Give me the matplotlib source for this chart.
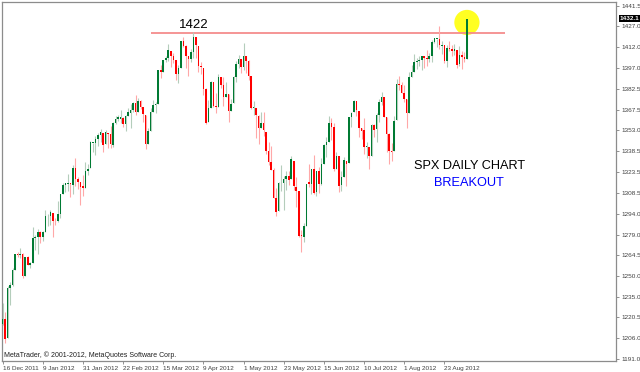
import numpy as np
import matplotlib.pyplot as plt
import matplotlib.transforms as mtransforms

plt.rcParams['font.family'] = ['Liberation Sans', 'DejaVu Sans']

# SPX daily bars, 16 Dec 2011 - 6 Sep 2012 (one entry per bar)
opens = [1216.1, 1219.7, 1205.7, 1241.3, 1243.7, 1254.0, 1265.3, 1265.0, 1265.4, 1249.6,
         1263.0, 1257.6, 1258.9, 1277.0, 1277.3, 1281.0, 1277.8, 1280.8, 1292.0, 1292.5,
         1294.8, 1289.1, 1288.5, 1293.7, 1308.1, 1314.5, 1315.3, 1316.0, 1314.4, 1326.3,
         1318.3, 1316.2, 1313.5, 1312.5, 1324.2, 1326.2, 1344.3, 1344.3, 1347.0, 1350.0,
         1351.2, 1343.1, 1351.3, 1350.5, 1342.6, 1358.1, 1361.2, 1361.2, 1362.1, 1357.5,
         1363.5, 1365.2, 1367.6, 1372.2, 1365.9, 1374.1, 1369.6, 1363.6, 1343.4, 1352.7,
         1366.0, 1370.8, 1371.9, 1396.0, 1394.2, 1402.6, 1404.2, 1409.6, 1405.5, 1402.9,
         1392.8, 1397.1, 1416.6, 1412.5, 1405.4, 1403.3, 1408.5, 1419.0, 1413.1, 1398.8,
         1397.5, 1382.2, 1359.0, 1368.8, 1387.6, 1370.3, 1369.6, 1390.8, 1385.1, 1377.0,
         1378.5, 1367.0, 1372.1, 1390.6, 1400.2, 1403.3, 1397.9, 1405.5, 1402.3, 1391.5,
         1368.8, 1369.2, 1363.2, 1354.6, 1358.1, 1351.9, 1338.4, 1330.8, 1324.8, 1305.1,
         1295.7, 1316.1, 1316.0, 1318.7, 1320.8, 1318.9, 1331.3, 1313.1, 1309.9, 1278.3,
         1277.8, 1285.6, 1316.2, 1315.0, 1325.7, 1309.4, 1324.0, 1314.9, 1329.2, 1342.4,
         1344.8, 1358.0, 1355.4, 1325.9, 1334.9, 1314.1, 1320.0, 1331.5, 1330.1, 1362.3,
         1365.8, 1373.7, 1367.1, 1354.7, 1353.0, 1341.4, 1341.3, 1334.8, 1356.5, 1353.7,
         1363.6, 1373.0, 1376.5, 1362.3, 1350.5, 1338.4, 1338.2, 1360.1, 1385.9, 1385.3,
         1379.3, 1375.1, 1365.5, 1391.0, 1394.5, 1401.2, 1402.3, 1402.6, 1405.9, 1404.4,
         1403.9, 1405.6, 1415.8, 1417.9, 1418.1, 1413.1, 1413.5, 1402.0, 1411.1, 1410.4,
         1409.3, 1410.1, 1400.1, 1406.5, 1404.9, 1403.7]
highs = [1231.0, 1224.6, 1242.8, 1245.6, 1255.2, 1265.4, 1267.0, 1269.4, 1265.9, 1263.5,
         1264.1, 1260.0, 1284.6, 1278.7, 1283.1, 1281.8, 1281.9, 1296.5, 1293.8, 1296.8,
         1294.8, 1291.0, 1303.0, 1308.1, 1315.5, 1315.4, 1322.3, 1316.0, 1328.3, 1333.5,
         1320.1, 1316.2, 1321.4, 1330.5, 1329.2, 1345.3, 1344.4, 1349.2, 1351.0, 1354.3,
         1351.2, 1353.4, 1351.3, 1355.9, 1359.0, 1363.4, 1364.0, 1367.8, 1362.7, 1364.2,
         1368.9, 1371.9, 1373.1, 1378.0, 1376.2, 1374.5, 1369.6, 1363.6, 1354.9, 1368.7,
         1374.8, 1373.0, 1396.1, 1399.4, 1402.6, 1405.9, 1414.0, 1409.6, 1407.8, 1402.9,
         1399.2, 1416.6, 1419.2, 1413.7, 1405.4, 1410.9, 1422.4, 1419.1, 1413.1, 1401.6,
         1397.5, 1383.0, 1374.7, 1388.1, 1387.6, 1379.7, 1392.8, 1390.8, 1390.5, 1387.4,
         1378.5, 1375.6, 1391.4, 1402.1, 1406.6, 1403.3, 1415.3, 1405.5, 1403.1, 1391.5,
         1373.9, 1369.2, 1363.7, 1365.9, 1365.7, 1351.9, 1344.9, 1341.8, 1326.4, 1312.2,
         1316.4, 1328.5, 1320.7, 1324.1, 1324.2, 1334.9, 1331.3, 1319.7, 1309.9, 1282.6,
         1287.6, 1315.1, 1329.1, 1325.8, 1335.5, 1324.3, 1327.3, 1333.7, 1343.3, 1348.2,
         1363.5, 1361.6, 1358.3, 1337.8, 1334.9, 1324.2, 1334.4, 1331.5, 1362.2, 1366.4,
         1374.8, 1373.8, 1367.1, 1354.9, 1361.5, 1345.0, 1341.3, 1357.7, 1357.3, 1365.4,
         1375.3, 1380.4, 1376.5, 1362.3, 1351.5, 1344.0, 1363.1, 1389.2, 1391.7, 1387.2,
         1385.0, 1375.1, 1394.2, 1399.6, 1407.1, 1404.1, 1406.0, 1406.0, 1405.9, 1410.0,
         1407.7, 1417.4, 1418.7, 1418.1, 1426.7, 1416.1, 1413.5, 1413.5, 1416.2, 1413.6,
         1414.0, 1410.1, 1413.1, 1409.3, 1408.8, 1432.1]
lows = [1215.2, 1202.4, 1205.7, 1229.5, 1243.1, 1254.0, 1263.5, 1262.3, 1248.6, 1249.6,
        1257.5, 1255.5, 1258.9, 1268.1, 1265.3, 1273.3, 1274.6, 1280.8, 1285.4, 1285.8,
        1277.6, 1286.0, 1287.8, 1291.0, 1308.1, 1309.2, 1309.9, 1306.1, 1307.7, 1313.6,
        1311.7, 1300.5, 1306.7, 1312.5, 1321.6, 1326.2, 1337.5, 1335.9, 1341.9, 1344.6,
        1337.4, 1343.1, 1340.8, 1340.8, 1341.2, 1357.2, 1359.5, 1358.1, 1355.5, 1352.3,
        1363.5, 1354.9, 1366.0, 1363.8, 1365.9, 1368.0, 1359.1, 1340.0, 1343.4, 1352.7,
        1366.0, 1365.3, 1371.9, 1390.0, 1394.2, 1401.5, 1402.4, 1397.7, 1400.6, 1388.7,
        1386.9, 1397.1, 1411.9, 1397.2, 1391.6, 1401.4, 1404.5, 1404.6, 1394.1, 1392.9,
        1378.2, 1357.4, 1359.0, 1368.8, 1369.9, 1365.4, 1369.6, 1383.3, 1370.3, 1377.0,
        1358.8, 1366.8, 1372.1, 1387.4, 1397.0, 1394.0, 1395.7, 1393.9, 1388.7, 1368.0,
        1363.9, 1347.8, 1343.1, 1354.6, 1348.9, 1336.6, 1328.4, 1324.8, 1304.9, 1292.0,
        1295.7, 1310.0, 1296.5, 1310.5, 1314.2, 1318.9, 1310.8, 1298.9, 1277.3, 1266.7,
        1274.2, 1285.6, 1312.7, 1307.8, 1307.7, 1306.6, 1308.4, 1314.1, 1329.2, 1334.5,
        1344.8, 1346.5, 1324.4, 1325.9, 1309.3, 1310.3, 1320.0, 1313.3, 1330.1, 1355.7,
        1365.8, 1363.5, 1348.0, 1346.7, 1336.3, 1333.3, 1325.4, 1334.8, 1348.5, 1345.1,
        1359.0, 1371.2, 1362.2, 1337.6, 1329.2, 1331.5, 1338.2, 1360.1, 1381.4, 1379.2,
        1373.1, 1354.6, 1365.5, 1391.0, 1394.5, 1396.6, 1398.8, 1395.6, 1397.3, 1398.8,
        1401.8, 1401.5, 1414.7, 1412.1, 1410.9, 1406.8, 1400.5, 1398.0, 1409.1, 1405.6,
        1406.6, 1397.0, 1399.0, 1396.6, 1401.3, 1403.7]
closes = [1219.7, 1205.4, 1241.3, 1243.7, 1254.0, 1265.3, 1265.0, 1265.4, 1249.6, 1263.0,
          1257.6, 1258.9, 1277.1, 1277.3, 1281.1, 1277.8, 1280.7, 1292.1, 1292.5, 1295.5,
          1289.1, 1288.5, 1293.7, 1308.0, 1314.5, 1315.4, 1316.0, 1314.7, 1326.1, 1318.4,
          1316.3, 1313.0, 1312.4, 1324.1, 1325.5, 1344.9, 1344.3, 1347.1, 1350.0, 1352.0,
          1342.6, 1351.8, 1350.5, 1343.2, 1358.0, 1361.2, 1362.5, 1362.2, 1357.7, 1363.5,
          1365.7, 1367.6, 1372.2, 1365.7, 1374.1, 1369.6, 1364.3, 1343.4, 1352.6, 1365.9,
          1370.9, 1371.1, 1396.0, 1394.3, 1402.6, 1404.2, 1409.8, 1405.5, 1402.9, 1392.8,
          1397.1, 1416.5, 1412.5, 1405.5, 1403.3, 1408.5, 1419.0, 1413.4, 1399.0, 1398.1,
          1382.2, 1358.6, 1368.7, 1387.6, 1370.3, 1369.6, 1390.8, 1385.1, 1376.9, 1378.5,
          1366.9, 1372.0, 1390.7, 1400.0, 1403.4, 1397.9, 1405.8, 1402.3, 1391.6, 1369.1,
          1369.6, 1363.7, 1354.6, 1358.0, 1353.4, 1338.4, 1330.7, 1324.8, 1304.9, 1295.2,
          1316.0, 1316.6, 1318.9, 1320.7, 1317.8, 1332.4, 1313.3, 1310.3, 1278.0, 1278.2,
          1285.5, 1315.1, 1315.0, 1325.7, 1308.9, 1324.2, 1314.9, 1329.1, 1342.8, 1344.8,
          1358.0, 1355.7, 1325.5, 1335.0, 1313.7, 1320.0, 1331.9, 1329.0, 1362.2, 1365.5,
          1374.0, 1367.6, 1354.7, 1352.5, 1341.5, 1341.5, 1334.8, 1356.8, 1353.6, 1363.7,
          1372.8, 1376.5, 1362.7, 1350.5, 1338.3, 1337.9, 1360.0, 1386.0, 1385.3, 1379.3,
          1375.3, 1365.0, 1391.0, 1394.2, 1401.4, 1402.2, 1402.8, 1405.9, 1404.1, 1403.9,
          1405.5, 1415.5, 1418.2, 1418.1, 1413.2, 1413.5, 1402.1, 1411.1, 1410.4, 1409.3,
          1410.5, 1399.5, 1406.6, 1404.9, 1403.4, 1432.1]

x_tick_labels = ['16 Dec 2011', '9 Jan 2012', '31 Jan 2012', '22 Feb 2012', '15 Mar 2012',
                 '9 Apr 2012', '1 May 2012', '23 May 2012', '15 Jun 2012', '10 Jul 2012',
                 '1 Aug 2012', '23 Aug 2012']
y_ticks = [1191.0, 1206.0, 1220.5, 1235.0, 1250.0, 1264.5, 1279.0, 1294.0, 1308.5,
           1323.5, 1338.5, 1353.0, 1367.5, 1382.5, 1397.0, 1412.0, 1427.0, 1441.5]
resistance = 1422
last_price = 1432.1

o = np.array(opens)
h = np.array(highs)
l = np.array(lows)
c = np.array(closes)
x = np.arange(len(c))
up = c >= o

fig = plt.figure(figsize=(6.4, 3.72), dpi=100)
ax = fig.add_axes([2 / 640, 11 / 372, 614 / 640, 359 / 372])

# wicks
ax.vlines(x[up], l[up], h[up], color='#b4cdbb', lw=0.8, zorder=3)
ax.vlines(x[~up], l[~up], h[~up], color='#ffa8a8', lw=0.8, zorder=3)
# bodies
body = np.maximum(np.abs(c - o), 0.6)
ax.bar(x, body, bottom=np.minimum(o, c), width=0.62,
       color=np.where(up, '#007a33', '#ff0000'), linewidth=0, zorder=4)

# resistance line and breakout marker
ax.hlines(resistance, 59, 200, color='#f58c8c', lw=1.3, zorder=2)
ax.text(76, resistance + 1.8, str(resistance), ha='center', va='bottom', fontsize=9.5)
ax.scatter([x[-1]], [1429.5], s=330, color='#ffff22', edgecolor='none', zorder=1)

ax.text(186, 1327.5, 'SPX DAILY CHART', ha='center', va='center', fontsize=9.2)
ax.text(186, 1315.5, 'BREAKOUT', ha='center', va='center', fontsize=9.2, color='#0000ff')
ax.text(0.004, 0.006, 'MetaTrader, \u00a9 2001-2012, MetaQuotes Software Corp.',
        transform=ax.transAxes, fontsize=5, color='#202020', va='bottom', ha='left')

ax.set_xlim(-0.25, 244.4)
ax.set_ylim(1189.6, 1444.0)

ax.set_xticks(range(0, 177, 16))
ax.set_xticklabels(x_tick_labels, ha='left', fontsize=4.6, color='#404040')
ax.yaxis.tick_right()
ax.set_yticks(y_ticks)
ax.set_yticklabels([f'{v:.1f}' for v in y_ticks], fontsize=4.6, color='#404040')
ax.tick_params(axis='both', length=2.5, width=0.6, color='#808080', pad=1.2)

trans = mtransforms.blended_transform_factory(ax.transAxes, ax.transData)
ax.text(1.006, last_price, f'{last_price:.1f}', transform=trans, ha='left', va='center',
        fontsize=4.6, color='white', fontweight='bold',
        bbox=dict(facecolor='black', edgecolor='none', pad=0.8))

for s in ax.spines.values():
    s.set_color('#8c8c8c')
    s.set_linewidth(0.9)

fig.savefig('out.png', dpi=100, facecolor='white')
